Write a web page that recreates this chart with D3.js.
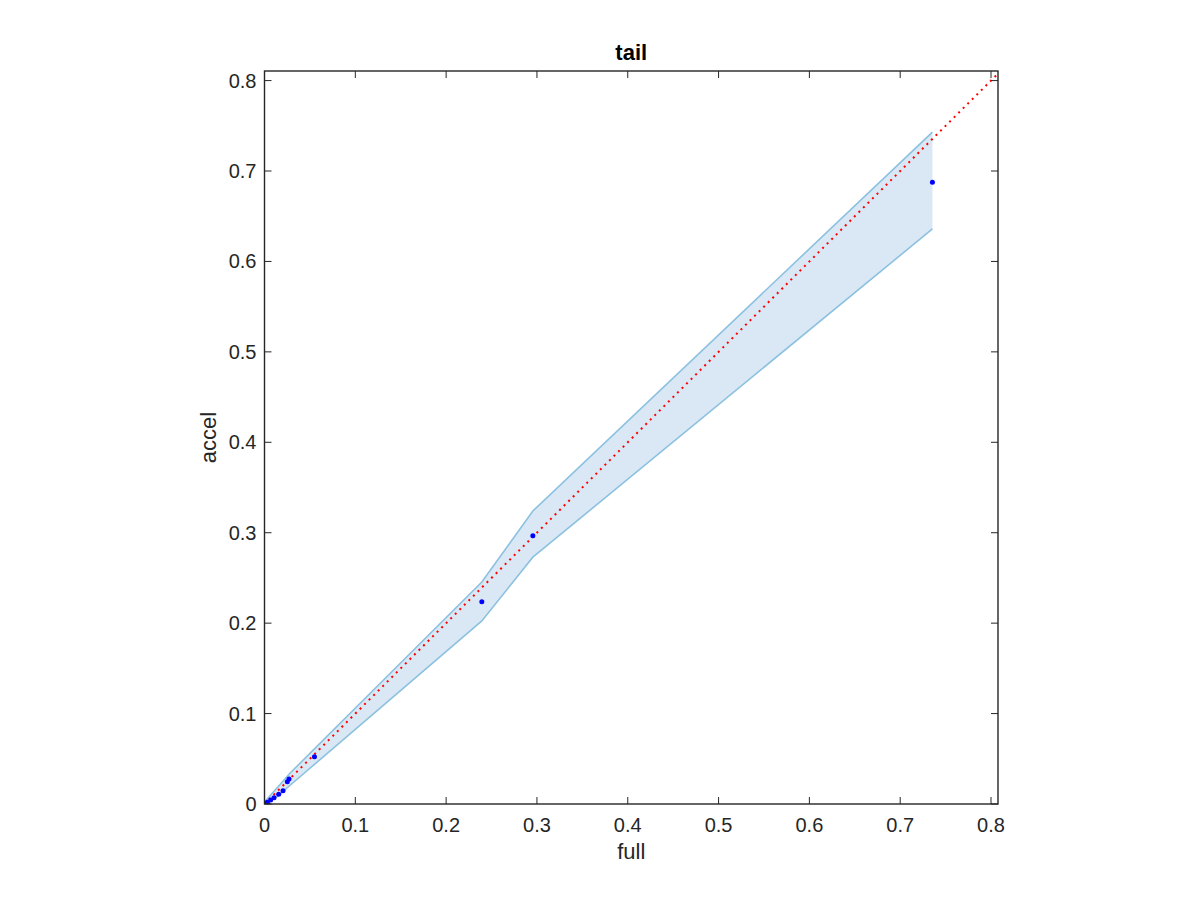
<!DOCTYPE html>
<html><head><meta charset="utf-8">
<script src="https://cdn.jsdelivr.net/npm/d3@7"></script>
<style>body{margin:0;background:#fff}svg{display:block}text{font-family:"Liberation Sans",Arial,Helvetica,sans-serif}</style>
</head><body>
<svg id="c" width="1200" height="900"></svg>
<script>
const full  = [0.0009, 0.0031, 0.0068, 0.0105, 0.0156, 0.0204, 0.0251, 0.0270, 0.0550, 0.2393, 0.2955, 0.7355];
const accel = [0.0000, 0.0019, 0.0044, 0.0070, 0.0107, 0.0147, 0.0247, 0.0276, 0.0523, 0.2237, 0.2967, 0.6875];
const bandX     = [0.0000, 0.0060, 0.0150, 0.0285, 0.2393, 0.2955, 0.7355];
const bandUpper = [0.0020, 0.0090, 0.0190, 0.0345, 0.2455, 0.3240, 0.7430];
const bandLower = [0.0000, 0.0030, 0.0090, 0.0210, 0.2024, 0.2730, 0.6360];
const ticks = [0, 0.1, 0.2, 0.3, 0.4, 0.5, 0.6, 0.7, 0.8];
const diag = [0, 0.82];

const L = 264.5, R = 998, T = 71, B = 804;
const x = d3.scaleLinear().domain([0, 0.8077]).range([L, R]);
const y = d3.scaleLinear().domain([0, 0.8106]).range([B, T]);
const svg = d3.select("#c");

svg.append("defs").append("clipPath").attr("id","clip").append("rect")
  .attr("x", L).attr("y", T).attr("width", R-L).attr("height", B-T);
const g = svg.append("g").attr("clip-path","url(#clip)");

const band = bandX.map((v,i)=>({x:v,u:bandUpper[i],l:bandLower[i]}));
g.append("path").datum(band)
  .attr("d", d3.area().x(d=>x(d.x)).y0(d=>y(d.l)).y1(d=>y(d.u)))
  .attr("fill","#d9e8f4").attr("stroke","none");
g.append("path").datum(band).attr("d", d3.line().x(d=>x(d.x)).y(d=>y(d.u)))
  .attr("fill","none").attr("stroke","#8cc1e0").attr("stroke-width",1.6);
g.append("path").datum(band).attr("d", d3.line().x(d=>x(d.x)).y(d=>y(d.l)))
  .attr("fill","none").attr("stroke","#8cc1e0").attr("stroke-width",1.6);

g.append("path").datum(diag).attr("d", d3.line().x(d=>x(d)).y(d=>y(d)))
  .attr("fill","none").attr("stroke","#ff0000").attr("stroke-width",2)
  .attr("stroke-dasharray","2,4.4");

g.selectAll("circle").data(full).join("circle")
  .attr("cx", d=>x(d)).attr("cy", (d,i)=>y(accel[i])).attr("r", 2.5).attr("fill","#0000ff");

const axCol = "#262626";
const tl = 7;
ticks.forEach(t=>{
  const px = x(t), py = y(t);
  svg.append("line").attr("x1",px).attr("x2",px).attr("y1",B).attr("y2",B-tl).attr("stroke",axCol);
  svg.append("line").attr("x1",px).attr("x2",px).attr("y1",T).attr("y2",T+tl).attr("stroke",axCol);
  svg.append("line").attr("x1",L).attr("x2",L+tl).attr("y1",py).attr("y2",py).attr("stroke",axCol);
  svg.append("line").attr("x1",R).attr("x2",R-tl).attr("y1",py).attr("y2",py).attr("stroke",axCol);
});
svg.append("rect").attr("x",L).attr("y",T).attr("width",R-L).attr("height",B-T)
  .attr("fill","none").attr("stroke",axCol).attr("stroke-width",1.4);

const fmt = d=> d===0 ? "0" : d3.format(".1f")(d);
svg.selectAll(".xt").data(ticks).join("text").attr("class","xt")
  .attr("x", d=>x(d)).attr("y", B+28).attr("text-anchor","middle")
  .attr("font-size",20).attr("fill",axCol).text(fmt);
svg.selectAll(".yt").data(ticks).join("text").attr("class","yt")
  .attr("x", L-8).attr("y", d=>y(d)+7).attr("text-anchor","end")
  .attr("font-size",20).attr("fill",axCol).text(fmt);

svg.append("text").attr("x",(L+R)/2).attr("y",60).attr("text-anchor","middle")
  .attr("font-size",22).attr("font-weight","bold").attr("fill","#000").text("tail");
svg.append("text").attr("x",(L+R)/2).attr("y",859).attr("text-anchor","middle")
  .attr("font-size",22).attr("fill",axCol).text("full");
svg.append("text").attr("transform",`translate(216,${(T+B)/2}) rotate(-90)`).attr("text-anchor","middle")
  .attr("font-size",22).attr("fill",axCol).text("accel");
</script>
</body></html>
